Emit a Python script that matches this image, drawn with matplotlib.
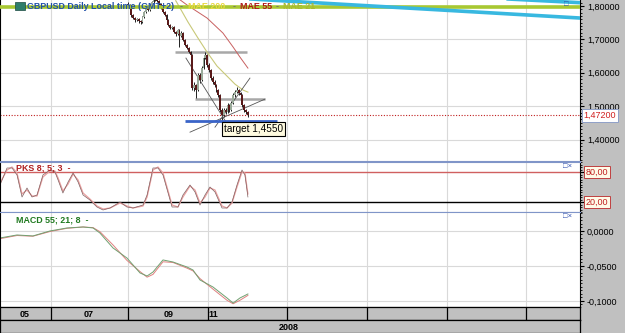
import numpy as np
import matplotlib.pyplot as plt
import matplotlib.patches as mpatches
import matplotlib.transforms as mtrans
from matplotlib.ticker import MultipleLocator, FixedLocator, FuncFormatter

plt.rcParams['font.family'] = ['Liberation Sans', 'DejaVu Sans']

W, H = 625, 333

# ---- data (x in daily bar units, price in GBPUSD) ----
month_grid = [27.5, 69, 112.5, 155, 198.5, 241.5, 284.5]
month_labels = ['05', '07', '09', '11']
month_label_x = [13.5, 48, 91, 115.5]
year_label = '2008'
year_label_x = 156

first_bar = 69
opens = [1.806, 1.803, 1.794, 1.773, 1.764, 1.758, 1.761, 1.755, 1.752, 1.767,
         1.782, 1.794, 1.788, 1.803, 1.812, 1.818, 1.824, 1.815, 1.806, 1.794,
         1.782, 1.773, 1.758, 1.743, 1.734, 1.737, 1.722, 1.716, 1.728, 1.710,
         1.719, 1.698, 1.683, 1.674, 1.662, 1.653, 1.554, 1.563, 1.548, 1.593,
         1.578, 1.614, 1.644, 1.653, 1.623, 1.608, 1.584, 1.572, 1.563, 1.548,
         1.533, 1.488, 1.473, 1.488, 1.482, 1.503, 1.488, 1.509, 1.533, 1.542,
         1.548, 1.539, 1.533, 1.503, 1.488, 1.482]
closes = [1.803, 1.794, 1.773, 1.764, 1.758, 1.761, 1.755, 1.752, 1.767, 1.782,
          1.794, 1.788, 1.803, 1.812, 1.818, 1.824, 1.815, 1.806, 1.794, 1.782,
          1.773, 1.758, 1.743, 1.734, 1.737, 1.722, 1.716, 1.728, 1.710, 1.719,
          1.698, 1.683, 1.674, 1.662, 1.653, 1.554, 1.563, 1.548, 1.593, 1.578,
          1.614, 1.644, 1.653, 1.623, 1.608, 1.584, 1.572, 1.563, 1.548, 1.533,
          1.488, 1.473, 1.488, 1.482, 1.503, 1.488, 1.509, 1.533, 1.542, 1.548,
          1.539, 1.533, 1.503, 1.488, 1.482, 1.472]
highs = [1.812, 1.806, 1.797, 1.776, 1.767, 1.765, 1.764, 1.759, 1.770, 1.785,
         1.798, 1.799, 1.806, 1.816, 1.822, 1.828, 1.827, 1.818, 1.809, 1.797,
         1.786, 1.776, 1.761, 1.747, 1.741, 1.740, 1.726, 1.732, 1.731, 1.724,
         1.722, 1.701, 1.687, 1.678, 1.666, 1.657, 1.572, 1.566, 1.598, 1.600,
         1.620, 1.650, 1.662, 1.657, 1.628, 1.612, 1.590, 1.578, 1.567, 1.552,
         1.537, 1.494, 1.494, 1.493, 1.509, 1.507, 1.514, 1.538, 1.548, 1.557,
         1.552, 1.543, 1.537, 1.507, 1.492, 1.486]
lows = [1.800, 1.790, 1.768, 1.760, 1.752, 1.754, 1.750, 1.745, 1.750, 1.764,
        1.779, 1.784, 1.785, 1.800, 1.809, 1.815, 1.811, 1.802, 1.790, 1.778,
        1.769, 1.754, 1.739, 1.730, 1.731, 1.718, 1.710, 1.712, 1.677, 1.706,
        1.694, 1.679, 1.670, 1.658, 1.649, 1.548, 1.545, 1.524, 1.545, 1.570,
        1.575, 1.610, 1.640, 1.618, 1.602, 1.578, 1.566, 1.558, 1.542, 1.527,
        1.482, 1.458, 1.468, 1.476, 1.478, 1.483, 1.484, 1.505, 1.528, 1.538,
        1.534, 1.527, 1.498, 1.483, 1.476, 1.466]
last_price = 1.472

mae55_x = [95, 101.1, 111.9, 120.5, 126, 129.7, 134]
mae55 = [1.828, 1.803, 1.764, 1.719, 1.677, 1.647, 1.614]
mae21_x = [95, 97.3, 101.6, 107, 111.9, 117.3, 122.7, 127, 131.4, 134]
mae21 = [1.816, 1.794, 1.752, 1.704, 1.662, 1.620, 1.590, 1.566, 1.548, 1.542]

level_green = 1.7985
cyan_a_x, cyan_a_y = [120, 313.5], [1.826, 1.764]
cyan_b_x, cyan_b_y = [250, 313.5], [1.828, 1.810]
trend_lines = [([100.5, 122.2], [1.644, 1.452]),
               ([102.7, 143.2], [1.422, 1.521]),
               ([116.2, 135.1], [1.437, 1.584])]
gray_levels = [(1.662, 94.6, 133.5), (1.521, 105.4, 143.2)]
target = 1.455
target_span = (100, 149.7)

pks_x = [0, 3.8, 6.5, 9.2, 11.9, 14.6, 17.3, 20, 23.2, 27, 29.7, 31.4, 34, 36.8, 39.5,
         42.2, 44.9, 48.6, 52.4, 55.7, 59.5, 64.9, 68.6, 71.9, 77.3, 79.5, 82.7, 85.4,
         88.1, 93, 96.2, 98.9, 102.7, 105.4, 108.1, 110.8, 113.5, 116.2, 120, 122.7,
         125.4, 128.1, 130.8, 132.4, 134]
pks_k = [54, 88, 88, 74, 30, 48, 30, 34, 74, 84, 80, 64, 38, 60, 78, 60, 34, 24, 10, 4,
         8, 20, 10, 8, 14, 34, 88, 88, 74, 10, 10, 34, 54, 40, 14, 34, 50, 40, 8, 8,
         20, 54, 84, 74, 30]
pks_d = [58, 84, 90, 78, 36, 44, 32, 32, 70, 82, 82, 68, 42, 56, 76, 64, 38, 26, 12, 6,
         8, 18, 12, 8, 12, 30, 84, 90, 78, 14, 10, 30, 52, 44, 18, 30, 48, 44, 12, 8,
         18, 50, 80, 78, 36]

macd_x = [0, 9.2, 17.8, 27, 36.2, 44.9, 50.3, 54, 61.1, 68.6, 75.7, 79.5, 82.7, 88.1,
          93.5, 101, 104.3, 108.1, 115.1, 122.7, 126, 129.7, 134]
macd = [-0.010, -0.0057, -0.0071, 0.0, 0.0043, 0.0057, 0.0043, -0.0029, -0.0243, -0.0386,
        -0.060, -0.0643, -0.0586, -0.0414, -0.0443, -0.0514, -0.0557, -0.070, -0.080,
        -0.0957, -0.103, -0.0957, -0.090]
signal = [-0.011, -0.0065, -0.0075, -0.0008, 0.0038, 0.0057, 0.0048, -0.0010, -0.0200,
          -0.0420, -0.0580, -0.0660, -0.0620, -0.0440, -0.0450, -0.0530, -0.0570, -0.0680,
          -0.0830, -0.0990, -0.1040, -0.0990, -0.0920]

# ---- figure ----
fig = plt.figure(figsize=(6.25, 3.33), dpi=100)
fig.patches.append(mpatches.Rectangle((580 / W, 0), 45 / W, 1, transform=fig.transFigure,
                                      facecolor='#c0c0c0', edgecolor='none', zorder=-5))


def box(x0, y0, x1, y1):
    return [x0 / W, 1 - y1 / H, (x1 - x0) / W, (y1 - y0) / H]


def ftext(x, y, s, **kw):
    fig.text(x / W, 1 - y / H, s, va='center', **kw)


ax = fig.add_axes(box(0, 0, 580, 161))
pk = fig.add_axes(box(0, 162, 580, 212))
md = fig.add_axes(box(0, 212, 580, 307))
dt = fig.add_axes(box(0, 307, 580, 320))
yr = fig.add_axes(box(0, 320, 580, 333))

sep = '#8095c8'
for a in (ax, pk, md):
    a.set_xlim(0, 313.5)
    a.xaxis.set_major_locator(FixedLocator(month_grid))
    a.tick_params(axis='x', length=0, labelbottom=False)
    a.grid(True, axis='x', color='#d9d9d9', lw=0.8)
    a.yaxis.tick_right()
    a.tick_params(axis='y', which='major', length=3, width=0.8, labelsize=6.5, pad=2)
    a.tick_params(axis='y', which='minor', length=1.5, width=0.6)
    a.set_axisbelow(True)
    for s in ('left', 'right'):
        a.spines[s].set_color('black')
    a.spines['top'].set_color(sep)
    a.spines['bottom'].set_color(sep)

ax.spines['top'].set_visible(False)
md.spines['bottom'].set_color('black')

# main price panel
ax.set_ylim(1.3356, 1.818)
ax.yaxis.set_major_locator(FixedLocator([1.4, 1.5, 1.6, 1.7, 1.8]))
ax.yaxis.set_minor_locator(MultipleLocator(0.01))
ax.yaxis.set_major_formatter(FuncFormatter(lambda v, p: f'{v:.5f}'.replace('.', ',')))
ax.grid(True, axis='y', color='#d9d9d9', lw=0.8)

o = np.array(opens)
c = np.array(closes)
bx = np.arange(len(c)) + first_bar
ax.vlines(bx, lows, highs, color='#202020', lw=0.7, zorder=2)
body = np.maximum(np.abs(c - o), 0.002)
cols = np.where(c >= o, '#9aab9a', '#5a1a1a')
ax.bar(bx, body, bottom=np.minimum(o, c), width=1.0, color=cols, lw=0, zorder=2.5)

ax.plot(mae55_x, mae55, color='#c86060', lw=0.7, zorder=2)
ax.plot(mae21_x, mae21, color='#c8c878', lw=0.8, zorder=2)
for xs, ys in trend_lines:
    ax.plot(xs, ys, color='#555555', lw=0.6, zorder=2)
for lev, x0, x1 in gray_levels:
    ax.hlines(lev, x0, x1, color='#a8a8a8', lw=1.8, zorder=1.8)
ax.hlines(target, *target_span, color='#3a64c8', lw=2, zorder=3)
ax.axhline(last_price, color='#c02020', ls=(0, (1, 1.5)), lw=0.8, zorder=1.5)
ax.axhline(level_green, color='#a8c832', lw=2.6, zorder=3)
ax.plot(cyan_a_x, cyan_a_y, color='#38b8e0', lw=2.6, zorder=3.1)
ax.plot(cyan_b_x, cyan_b_y, color='#38b8e0', lw=2.6, zorder=3.1)

ax.text(121, 1.4315, 'target 1,4550', fontsize=7.2, color='black', va='center', zorder=5,
        bbox=dict(boxstyle='square,pad=0.2', facecolor='#fffbe0', edgecolor='black', lw=0.8))
tr = mtrans.blended_transform_factory(ax.transAxes, ax.transData)
ax.text(1.006, last_price, f'{last_price:.5f}'.replace('.', ','), transform=tr,
        color='#d02020', fontsize=6.5, va='center', clip_on=False, zorder=6,
        bbox=dict(boxstyle='square,pad=0.2', facecolor='white', edgecolor='#8fa0c8', lw=0.7))

# PKS panel
pk.set_ylim(0, 100)
pk.yaxis.set_major_locator(FixedLocator([20, 80]))
pk.yaxis.set_minor_locator(MultipleLocator(5))
pk.tick_params(axis='y', labelright=False)
pk.axhline(80, color='#d06060', lw=1)
pk.axhline(20, color='black', lw=1)
pk.plot(pks_x, pks_d, color='#eaa0a0', lw=0.9)
pk.plot(pks_x, pks_k, color='#806060', lw=0.5)
trp = mtrans.blended_transform_factory(pk.transAxes, pk.transData)
for v in (80, 20):
    pk.text(1.01, v, f'{v:.2f}'.replace('.', ','), transform=trp, color='#c02020',
            fontsize=6.5, va='center', clip_on=False,
            bbox=dict(boxstyle='square,pad=0.2', facecolor='#fffbe8', edgecolor='#c04040', lw=0.7))

# MACD panel
md.set_ylim(-0.1086, 0.0271)
md.yaxis.set_major_locator(FixedLocator([0, -0.05, -0.1]))
md.yaxis.set_minor_locator(MultipleLocator(0.005))
md.yaxis.set_major_formatter(FuncFormatter(lambda v, p: f'{v:.4f}'.replace('.', ',')))
md.grid(True, axis='y', color='#d9d9d9', lw=0.8)
md.plot(macd_x, signal, color='#e08080', lw=0.7)
md.plot(macd_x, macd, color='#70a070', lw=0.7)

# date strips
for a in (dt, yr):
    a.set_xlim(0, 313.5)
    a.set_ylim(0, 1)
    a.set_facecolor('#c0c0c0')
    a.set_xticks([])
    a.set_yticks([])
    for s in a.spines.values():
        s.set_color('black')
        s.set_linewidth(0.9)
dt.vlines(month_grid, 0, 1, color='black', lw=0.9)
for lab, x in zip(month_labels, month_label_x):
    dt.text(x, 0.45, lab, ha='center', va='center', fontsize=6.5, weight='bold')
yr.text(year_label_x, 0.45, year_label, ha='center', va='center', fontsize=6.5, weight='bold')

# headers
fig.patches.append(mpatches.Rectangle((15 / W, 1 - 10 / H), 10 / W, 8 / H,
                                      transform=fig.transFigure, facecolor='#2e7d6b',
                                      edgecolor='#1a4a40', lw=0.5, zorder=4))
ftext(27, 6.5, 'GBPUSD Daily Local time (GMT+2)', color='#2050a8', fontsize=6.4, weight='bold')
ftext(180, 6.5, '-', color='#707070', fontsize=6.4, weight='bold')
ftext(188, 6.5, 'MAE 200', color='#e8d840', fontsize=6.4, weight='bold')
ftext(233, 6.5, '-', color='#707070', fontsize=6.4, weight='bold')
ftext(240, 6.5, 'MAE 55', color='#b01818', fontsize=6.4, weight='bold')
ftext(276, 6.5, '-', color='#707070', fontsize=6.4, weight='bold')
ftext(283, 6.5, 'MAE 21', color='#a8b830', fontsize=6.4, weight='bold')
ftext(16, 168.5, 'PKS 8; 5; 3  -', color='#b02020', fontsize=6.4, weight='bold')
ftext(16, 219.5, 'MACD 55; 21; 8  -', color='#207a20', fontsize=6.4, weight='bold')
ftext(564, 5, '\u25a1', color='#3050b0', fontsize=5.5)
ftext(563, 167, '\u25a1\u00d7', color='#3050b0', fontsize=5.5)
ftext(563, 217, '\u25a1\u00d7', color='#3050b0', fontsize=5.5)

fig.savefig('out.png', dpi=100, facecolor='white')
